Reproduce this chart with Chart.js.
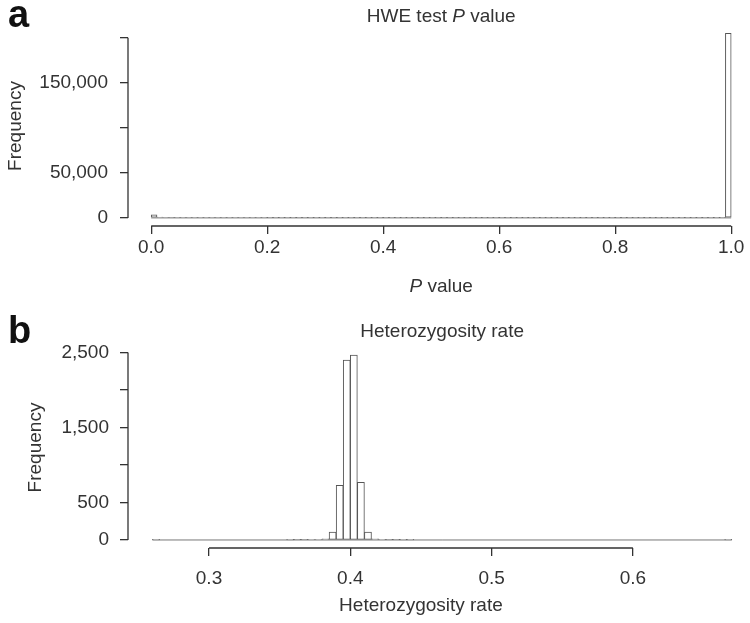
<!DOCTYPE html>
<html>
<head>
<meta charset="utf-8">
<script src="https://cdn.jsdelivr.net/npm/chart.js@4.4.1/dist/chart.umd.min.js"></script>
<style>
  html, body { margin: 0; padding: 0; background: #fff; overflow: hidden; }
  #wrap { position: relative; width: 750px; height: 623px; }
  canvas { position: absolute; left: 0; }
  #hwe-chart { top: 0; }
  #het-chart { top: 300px; }
</style>
</head>
<body>
<div id="wrap">
  <canvas id="hwe-chart" width="750" height="300"></canvas>
  <canvas id="het-chart" width="750" height="323"></canvas>
</div>
<script>
// Panel a: HWE test P value (bins of 0.01 from 0 to 1)
var hweBinStart = 0;
var hweBinWidth = 0.01;
var hweCounts = [
    3300, 900, 700, 620, 560, 520, 500, 480, 470, 460,
    450, 440, 430, 420, 415, 410, 405, 400, 395, 390,
    385, 380, 378, 375, 372, 370, 368, 365, 362, 360,
    358, 356, 354, 352, 350, 348, 346, 344, 342, 340,
    338, 336, 334, 332, 330, 329, 328, 327, 326, 325,
    324, 323, 322, 321, 320, 319, 318, 317, 316, 315,
    314, 313, 312, 311, 310, 309, 308, 307, 306, 305,
    304, 303, 302, 301, 300, 300, 299, 298, 297, 296,
    295, 294, 293, 292, 291, 290, 290, 289, 288, 287,
    286, 285, 284, 283, 282, 281, 280, 290, 320, 205000
];
var hweTicksX = [0, 0.2, 0.4, 0.6, 0.8, 1.0];
var hweTickLabelsX = ["0.0", "0.2", "0.4", "0.6", "0.8", "1.0"];
var hweTicksY = [0, 50000, 100000, 150000, 200000];
var hweTickLabelsY = ["0", "50,000", "", "150,000", ""];

// Panel b: heterozygosity rate (bins of 0.005 from 0.26 to 0.67)
var hetBinStart = 0.26;
var hetBinWidth = 0.005;
var hetCounts = [
    1, 0, 0, 0, 0, 0, 0, 0, 0, 0,
    0, 0, 0, 0, 0, 0, 0, 0, 0, 2,
    3, 4, 6, 9, 16, 105, 730, 2400, 2465, 770,
    105, 16, 6, 4, 3, 2, 1, 0, 0, 0,
    0, 0, 0, 0, 0, 0, 0, 0, 0, 0,
    0, 0, 0, 0, 0, 0, 0, 0, 0, 0,
    0, 0, 0, 0, 0, 0, 0, 0, 0, 0,
    0, 0, 0, 0, 0, 0, 0, 0, 0, 0,
    0, 1
];
var hetTicksX = [0.3, 0.4, 0.5, 0.6];
var hetTickLabelsX = ["0.3", "0.4", "0.5", "0.6"];
var hetTicksY = [0, 500, 1000, 1500, 2000, 2500];
var hetTickLabelsY = ["0", "500", "", "1,500", "", "2,500"];

var FONT = '"Liberation Sans", Arial, sans-serif';
var INK = "#333";

Chart.defaults.font.family = FONT;
Chart.defaults.font.size = 19;
Chart.defaults.color = INK;

// histogram bins -> points at bin centres
function binPoints(start, width, counts) {
    return counts.map(function (c, i) {
        return { x: start + (i + 0.5) * width, y: c };
    });
}

// text made of plain / italic pieces, centred on cx
function drawRich(ctx, parts, cx, y) {
    var total = 0;
    parts.forEach(function (p) {
        ctx.font = (p.italic ? "italic " : "") + "19px " + FONT;
        p.w = ctx.measureText(p.text).width;
        total += p.w;
    });
    var x = cx - total / 2;
    ctx.textAlign = "left";
    ctx.textBaseline = "alphabetic";
    parts.forEach(function (p) {
        ctx.font = (p.italic ? "italic " : "") + "19px " + FONT;
        ctx.fillText(p.text, x, y);
        x += p.w;
    });
}

// R-like axes: lines only between first and last tick, plus titles
function rStyle(cfg) {
    return {
        id: "rStyle",
        afterDraw: function (chart) {
            var ctx = chart.ctx;
            var xs = chart.scales.x, ys = chart.scales.y;
            var area = chart.chartArea;
            var x0 = xs.getPixelForValue(cfg.ticksX[0]);
            var x1 = xs.getPixelForValue(cfg.ticksX[cfg.ticksX.length - 1]);
            var y0 = ys.getPixelForValue(cfg.ticksY[0]);
            var y1 = ys.getPixelForValue(cfg.ticksY[cfg.ticksY.length - 1]);
            ctx.save();
            ctx.strokeStyle = INK;
            ctx.lineWidth = 1.3;
            ctx.beginPath();
            ctx.moveTo(x0, area.bottom);
            ctx.lineTo(x1, area.bottom);
            ctx.moveTo(area.left, y0);
            ctx.lineTo(area.left, y1);
            ctx.stroke();

            ctx.fillStyle = INK;
            drawRich(ctx, cfg.title, xs.getPixelForValue(cfg.titleAt), cfg.titleY);
            drawRich(ctx, cfg.xTitle, (x0 + x1) / 2, cfg.xTitleY);

            ctx.font = "bold 38px " + FONT;
            ctx.fillStyle = "#111";
            ctx.textAlign = "left";
            ctx.textBaseline = "alphabetic";
            ctx.fillText(cfg.panel, 8, cfg.panelY);
            ctx.restore();
        }
    };
}

function makeHistogram(id, cfg) {
    var ctx = document.getElementById(id).getContext("2d");
    var first = cfg.binStart;
    var last = cfg.binStart + cfg.counts.length * cfg.binWidth;
    return new Chart(ctx, {
        type: "bar",
        data: {
            datasets: [
                {
                    type: "line",
                    data: [{ x: first, y: 0 }, { x: last, y: 0 }],
                    borderColor: "#777",
                    borderWidth: 1,
                    pointRadius: 0,
                },
                {
                    data: binPoints(cfg.binStart, cfg.binWidth, cfg.counts),
                    backgroundColor: "#fff",
                    borderColor: "#555",
                    borderWidth: 1,
                    borderSkipped: false,
                    barPercentage: 1,
                    categoryPercentage: 1,
                },
            ],
        },
        options: {
            responsive: false,
            animation: false,
            events: [],
            layout: { padding: { top: cfg.top, right: 1, bottom: 0, left: 0 } },
            plugins: { legend: { display: false }, tooltip: { enabled: false } },
            scales: {
                x: {
                    type: "linear",
                    offset: false,
                    min: cfg.xMin,
                    max: cfg.xMax,
                    afterFit: function (s) { s.height = cfg.xHeight; },
                    afterBuildTicks: function (s) {
                        s.ticks = cfg.ticksX.map(function (v) { return { value: v }; });
                    },
                    ticks: {
                        autoSkip: false,
                        maxRotation: 0,
                        padding: cfg.xTickPad,
                        callback: function (v, i) { return cfg.labelsX[i]; },
                    },
                    grid: { offset: false, drawOnChartArea: false, tickLength: 8, color: INK, lineWidth: 1.3 },
                    border: { display: false },
                },
                y: {
                    min: cfg.yMin,
                    max: cfg.yMax,
                    afterFit: function (s) { s.width = 128; },
                    afterBuildTicks: function (s) {
                        s.ticks = cfg.ticksY.map(function (v) { return { value: v }; });
                    },
                    ticks: {
                        autoSkip: false,
                        padding: cfg.yTickPad,
                        callback: function (v, i) { return cfg.labelsY[i]; },
                    },
                    grid: { drawOnChartArea: false, tickLength: 8, color: INK, lineWidth: 1.3 },
                    border: { display: false },
                    title: {
                        display: true,
                        text: "Frequency",
                        padding: { top: cfg.yTitlePad, bottom: 0 },
                    },
                },
            },
        },
        plugins: [rStyle(cfg)],
    });
}

makeHistogram("hwe-chart", {
    binStart: hweBinStart, binWidth: hweBinWidth, counts: hweCounts,
    ticksX: hweTicksX, labelsX: hweTickLabelsX,
    ticksY: hweTicksY, labelsY: hweTickLabelsY,
    xMin: -0.04, xMax: 1.0307, yMin: -9000, yMax: 213000,
    top: 26, xHeight: 74, xTickPad: 2, yTickPad: 12, yTitlePad: 4,
    panel: "a", panelY: 27,
    title: [{ text: "HWE test " }, { text: "P", italic: true }, { text: " value" }],
    titleAt: 0.5, titleY: 22,
    xTitle: [{ text: "P", italic: true }, { text: " value" }], xTitleY: 292,
});

makeHistogram("het-chart", {
    binStart: hetBinStart, binWidth: hetBinWidth, counts: hetCounts,
    ticksX: hetTicksX, labelsX: hetTickLabelsX,
    ticksY: hetTicksY, labelsY: hetTickLabelsY,
    xMin: 0.24268, xMax: 0.68217, yMin: -107, yMax: 2573,
    top: 47, xHeight: 75, xTickPad: 11, yTickPad: 11, yTitlePad: 24,
    panel: "b", panelY: 43,
    title: [{ text: "Heterozygosity rate" }],
    titleAt: 0.465, titleY: 37,
    xTitle: [{ text: "Heterozygosity rate" }], xTitleY: 311,
});
</script>
</body>
</html>
